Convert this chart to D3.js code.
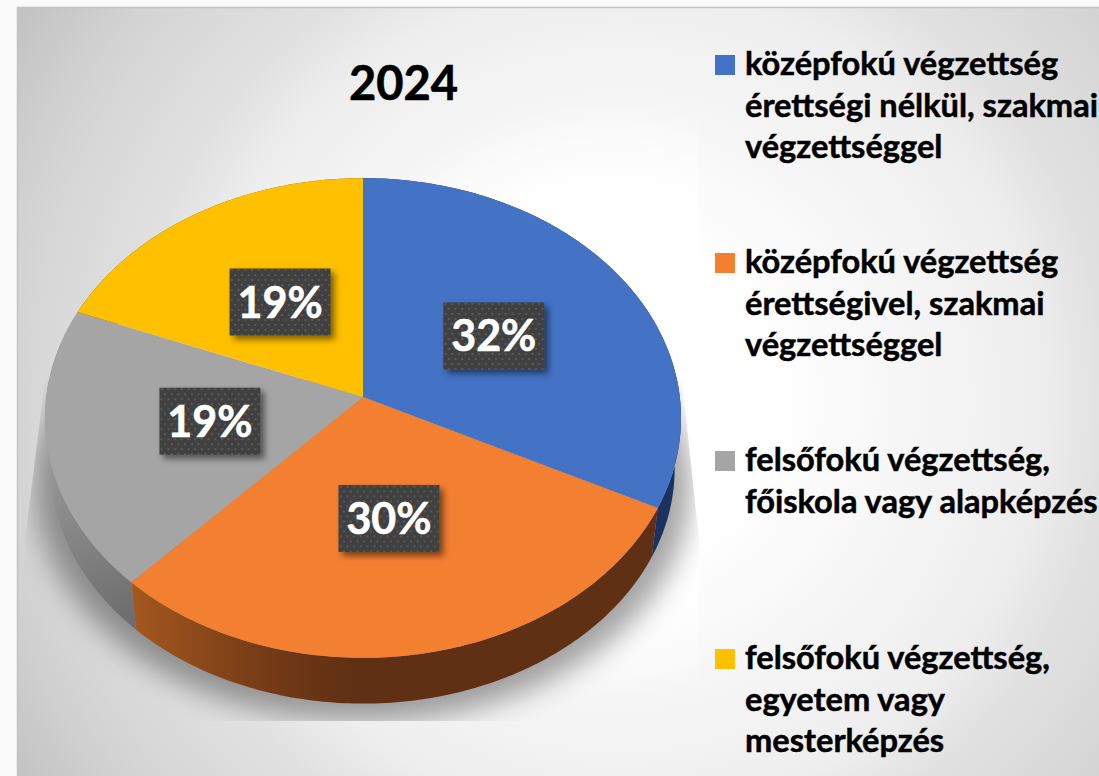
<!DOCTYPE html>
<html>
<head>
<meta charset="utf-8">
<script src="https://cdn.jsdelivr.net/npm/d3@7"></script>
<style>
  html, body { margin: 0; padding: 0; background: #fafafa; overflow: hidden; }
  text { font-family: Lato, "Noto Sans", sans-serif; font-weight: 700; }
</style>
</head>
<body>
<svg width="1099" height="776"></svg>
<script>
var title = "2024";
var shares = [32.4, 29.6, 19, 19];
var sliceColors = ["#4472c4", "#f37f31", "#a5a5a5", "#ffc000"];
var legendLines = [
  ["középfokú végzettség", "érettségi nélkül, szakmai", "végzettséggel"],
  ["középfokú végzettség", "érettségivel, szakmai", "végzettséggel"],
  ["felsőfokú végzettség,", "főiskola vagy alapképzés"],
  ["felsőfokú végzettség,", "egyetem vagy", "mesterképzés"]
];
var legendTops = [55, 253, 451, 649];

var svg = d3.select("svg");
var defs = svg.append("defs");

// the pie is a tilted disc: a unit circle pushed through a small perspective
var cx = 363, cy = 397, rx = 316.8, ry = 238, tilt = 0.0875;
var thickDrop = 51, thickScale = 0.98;

function project(angle, radius, lower) {
  var X = radius * Math.sin(angle),
      Y = -radius * Math.cos(angle),
      w = 1 - tilt * Y,
      s = lower ? thickScale : 1;
  return [cx + s * rx * X / w, cy + (lower ? thickDrop : 0) + s * ry * Y / w];
}

function rim(a0, a1, lower) {
  return d3.range(0, 121).map(function(i) {
    return project(a0 + (a1 - a0) * i / 120, 1, lower);
  });
}

var line = d3.line();
var pie = d3.pie().sort(null).value(function(d) { return d; });
var slices = pie(shares);
var color = d3.scaleOrdinal().domain(d3.range(shares.length)).range(sliceColors);

// background gradients
function gradient(id, tag, attrs, stops) {
  var g = defs.append(tag).attr("id", id).attr("gradientUnits", "userSpaceOnUse");
  Object.keys(attrs).forEach(function(k) { g.attr(k, attrs[k]); });
  stops.forEach(function(s) {
    g.append("stop").attr("offset", s[0]).attr("stop-color", s[1]).attr("stop-opacity", s[2] === undefined ? 1 : s[2]);
  });
}

gradient("panelFill", "radialGradient", {cx: 620, cy: 400, r: 760}, [
  [0.2, "#ffffff"], [0.55, "#eeeeee"], [0.64, "#e1e1e1"], [0.76, "#d8d8d8"], [0.82, "#d2d2d2"], [1, "#bababa"]
]);
gradient("glowFill", "radialGradient", {cx: 610, cy: 400, r: 300}, [
  [0, "#ffffff"], [0.65, "#ffffff"], [1, "#ffffff", 0]
]);
gradient("sideOrange", "linearGradient", {x1: 130, x2: 350, y1: 0, y2: 0}, [
  [0, "#a5581f"], [0.6, "#763c16"], [1, "#5f3013"]
]);
gradient("sideGray", "linearGradient", {x1: 45, x2: 135, y1: 440, y2: 620}, [
  [0, "#9c9c9c"], [1, "#6d6d6d"]
]);
var sideFills = ["#1b3160", "url(#sideOrange)", "url(#sideGray)", "#6e5300"];

defs.append("filter").attr("id", "discBlur").attr("x", "-20%").attr("y", "-20%").attr("width", "140%").attr("height", "140%")
  .append("feGaussianBlur").attr("stdDeviation", 14);

var boxShadow = defs.append("filter").attr("id", "boxShadow").attr("x", "-20%").attr("y", "-20%").attr("width", "140%").attr("height", "150%");
boxShadow.append("feDropShadow").attr("dx", 4).attr("dy", 4).attr("stdDeviation", 3)
  .attr("flood-color", "#000").attr("flood-opacity", 0.5);

var dots = defs.append("pattern").attr("id", "dots").attr("patternUnits", "userSpaceOnUse")
  .attr("width", 6.7).attr("height", 10);
dots.append("rect").attr("width", 6.7).attr("height", 10).attr("fill", "#404040");
dots.append("rect").attr("x", 1).attr("y", 2).attr("width", 2).attr("height", 2).attr("fill", "#5a5a5a");
dots.append("rect").attr("x", 4.35).attr("y", 7).attr("width", 2).attr("height", 2).attr("fill", "#5a5a5a");

defs.append("clipPath").attr("id", "shadowClip").append("polygon")
  .attr("points", "45,380 682,380 699,540 699,721 25,721 25,540");
defs.append("clipPath").attr("id", "glowClip").append("rect")
  .attr("x", 300).attr("y", 8).attr("width", 399).attr("height", 713);

// panel
svg.append("rect").attr("x", 17).attr("y", 7).attr("width", 1082).attr("height", 769).attr("fill", "url(#panelFill)");
svg.append("path").attr("d", "M17.5,776V7.5H1099").attr("fill", "none").attr("stroke", "#c2c2c2").attr("stroke-width", 1.5);

// white glow behind the plot area, cut off on its right edge
svg.append("rect").attr("x", 300).attr("y", 8).attr("width", 399).attr("height", 713)
  .attr("fill", "url(#glowFill)").attr("clip-path", "url(#glowClip)");

// shadow under the disc
svg.append("g").attr("clip-path", "url(#shadowClip)")
  .append("path")
  .attr("d", line(rim(0, 2 * Math.PI, true).map(function(p) { return [cx + (p[0] - cx) * 1.05, p[1] + 18]; })) + "Z")
  .attr("fill", "#000").attr("fill-opacity", 0.36)
  .attr("filter", "url(#discBlur)");

// side wall, then the top of each slice
svg.append("g").selectAll("path").data(slices).join("path")
  .attr("d", function(d) {
    return line(rim(d.startAngle, d.endAngle, false).concat(rim(d.startAngle, d.endAngle, true).reverse())) + "Z";
  })
  .attr("fill", function(d, i) { return sideFills[i]; });

svg.append("g").selectAll("path").data(slices).join("path")
  .attr("d", function(d) {
    return line([[cx, cy]].concat(rim(d.startAngle, d.endAngle, false))) + "Z";
  })
  .attr("fill", function(d, i) { return color(i); });

// percent labels, nudged by hand to sit where the original boxes sit
var boxW = 101, boxH = 67;
var labelNudge = [[-1, 0], [-3, -1], [3, -2], [3, 0]];
var labelPos = slices.map(function(d, i) {
  var p = project((d.startAngle + d.endAngle) / 2, 0.5, false);
  return [p[0] + labelNudge[i][0], p[1] + labelNudge[i][1]];
});
var labels = svg.append("g").selectAll("g").data(slices).join("g")
  .attr("transform", function(d, i) { return "translate(" + labelPos[i][0] + "," + labelPos[i][1] + ")"; });

labels.append("rect")
  .attr("x", -boxW / 2).attr("y", -boxH / 2).attr("width", boxW).attr("height", boxH)
  .attr("fill", "url(#dots)").attr("filter", "url(#boxShadow)");

labels.append("text")
  .attr("text-anchor", "middle").attr("y", 15.5).attr("font-size", 43).attr("fill", "#fff")
  .attr("stroke", "#fff").attr("stroke-width", 0.6)
  .text(function(d) { return Math.round(d.value) + "%"; });

// title
svg.append("text").attr("x", 403.5).attr("y", 100).attr("text-anchor", "middle")
  .attr("font-size", 47).attr("fill", "#000").attr("stroke", "#000").attr("stroke-width", 0.6).text(title);

// legend
var legend = svg.append("g").selectAll("g").data(legendLines).join("g")
  .attr("transform", function(d, i) { return "translate(715," + legendTops[i] + ")"; });

legend.append("rect").attr("width", 20).attr("height", 20).attr("fill", function(d, i) { return color(i); });

legend.append("text").attr("font-size", 32.6).attr("fill", "#000")
  .attr("stroke", "#000").attr("stroke-width", 0.5)
  .selectAll("tspan").data(function(d) { return d; }).join("tspan")
  .attr("x", 30).attr("y", function(d, i) { return 20 + i * 41.7; })
  .text(function(d) { return d; });
</script>
</body>
</html>
